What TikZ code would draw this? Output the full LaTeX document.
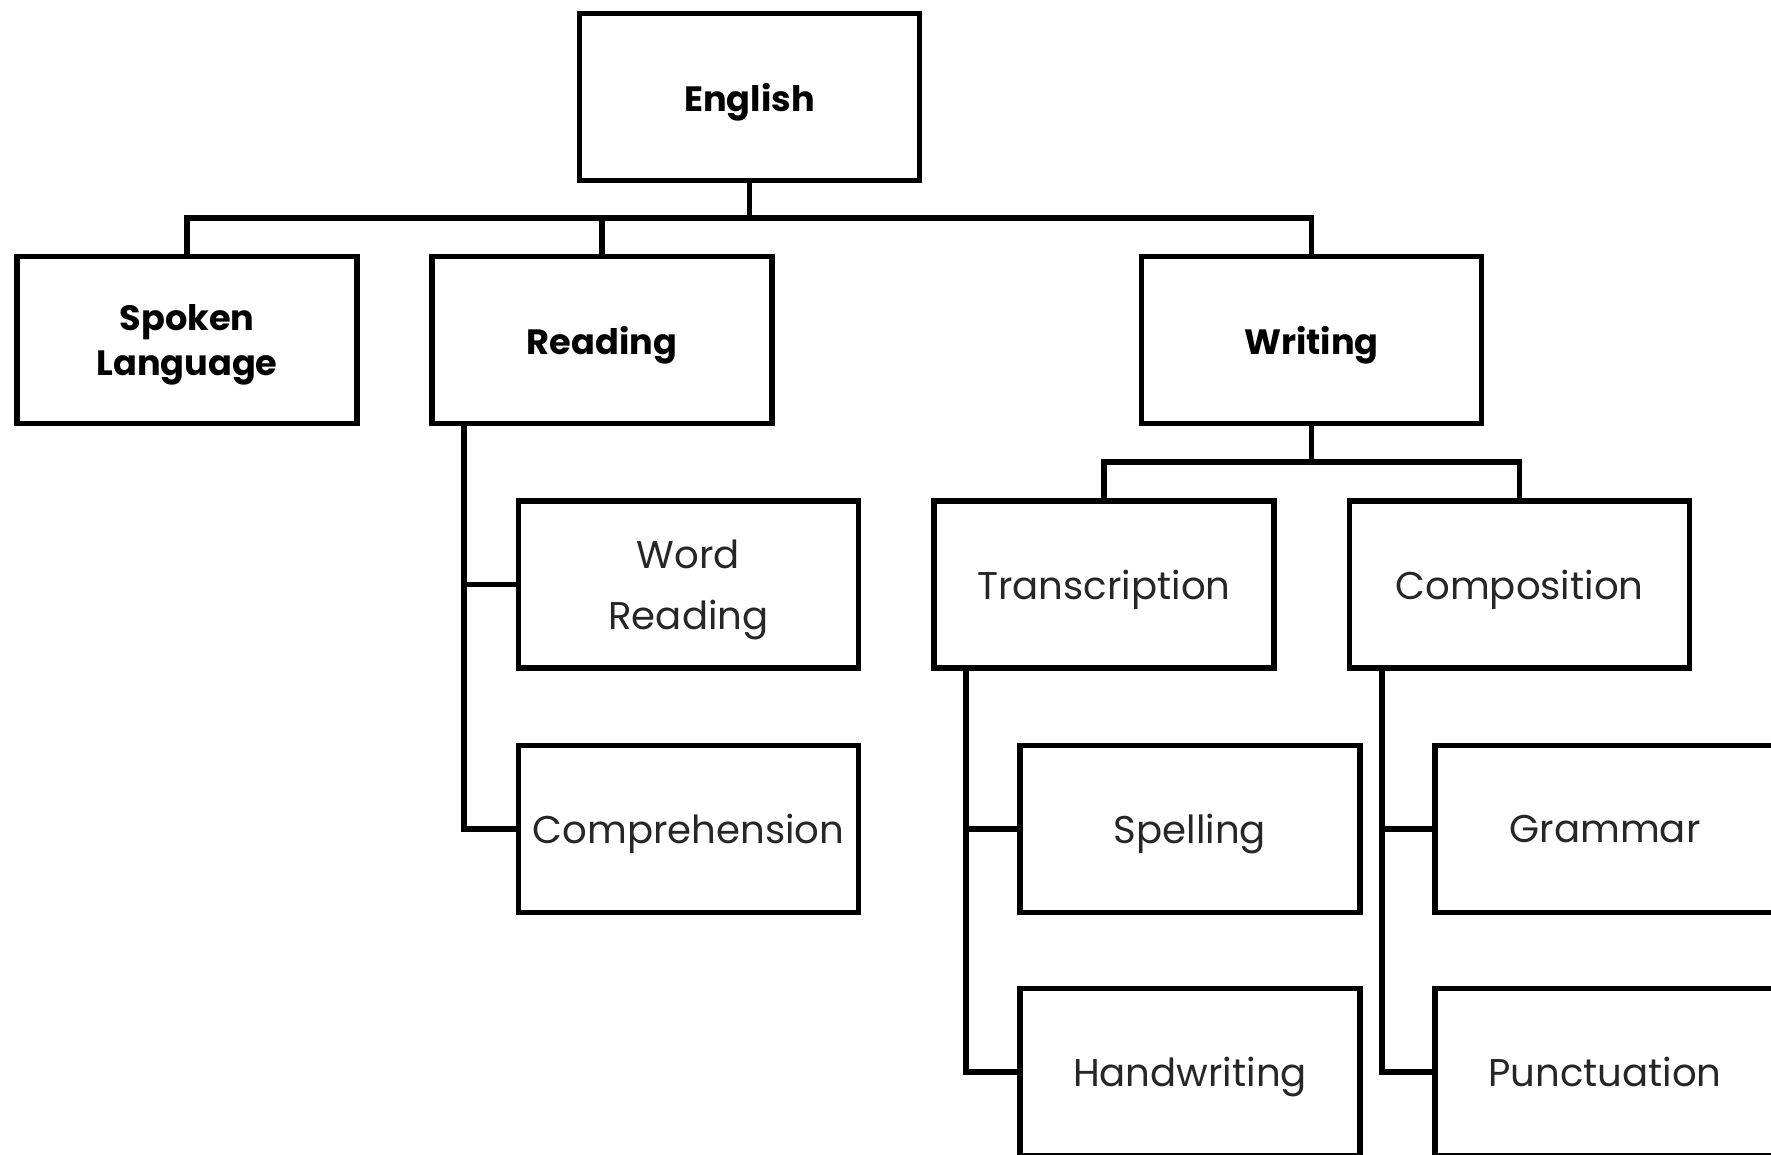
\documentclass[tikz,border=0pt]{standalone}
\usepackage{fontspec}
\setmainfont{Poppins}
\usepackage{tikz}

\begin{document}
\begin{tikzpicture}[
    topbox/.style={rectangle, draw, line width=3.3pt, minimum width=6.8cm, minimum height=3.34cm,
      align=center, inner sep=2pt, text depth=0pt, font=\fontsize{20}{26}\selectfont\bfseries},
    subbox/.style={rectangle, draw, line width=3.3pt, minimum width=6.8cm, minimum height=3.34cm,
      align=center, inner sep=1pt, text depth=0pt, text=black!85, font=\fontsize{22}{35}\selectfont},
    link/.style={line width=3.3pt}
  ]
        \useasboundingbox (0,0) rectangle (35.42,-23.10);
        \clip (0,0) rectangle (35.42,-23.10);

        % Draw boxes
        \node[topbox] (english) at (14.99, -1.94) {English};
        \node[topbox] (spoken) at (3.74, -6.80) {Spoken\\Language};
        \node[topbox] (reading) at (12.04, -6.80) {Reading};
        \node[topbox] (writing) at (26.23, -6.80) {Writing};
        \node[subbox] (wordreading) at (13.77, -11.69) {Word\\Reading};
        \node[subbox] (comprehension) at (13.77, -16.58) {Comprehension};
        \node[subbox] (transcription) at (22.08, -11.69) {Transcription};
        \node[subbox] (composition) at (30.39, -11.69) {Composition};
        \node[subbox] (spelling) at (23.80, -16.58) {Spelling};
        \node[subbox] (handwriting) at (23.80, -21.44) {Handwriting};
        \node[subbox] (grammar) at (32.10, -16.58) {Grammar};
        \node[subbox] (punctuation) at (32.10, -21.44) {Punctuation};

        % Draw links
        \coordinate (bus) at (14.99, -4.36);
        \coordinate (wbus) at (26.23, -9.24);
        \draw[link] (english.south) -- (bus);
        \draw[link] (spoken.north) |- (bus) -| (writing.north);
        \draw[link] (reading.north) -- (reading.north |- bus);
        \draw[link] (writing.south) -- (wbus);
        \draw[link] (transcription.north) |- (wbus) -| (composition.north);
        \draw[link] ([xshift=0.7cm]reading.south west) |- (wordreading.west);
        \draw[link] ([xshift=0.7cm]reading.south west) |- (comprehension.west);
        \draw[link] ([xshift=0.7cm]transcription.south west) |- (spelling.west);
        \draw[link] ([xshift=0.7cm]transcription.south west) |- (handwriting.west);
        \draw[link] ([xshift=0.7cm]composition.south west) |- (grammar.west);
        \draw[link] ([xshift=0.7cm]composition.south west) |- (punctuation.west);
\end{tikzpicture}
\end{document}
